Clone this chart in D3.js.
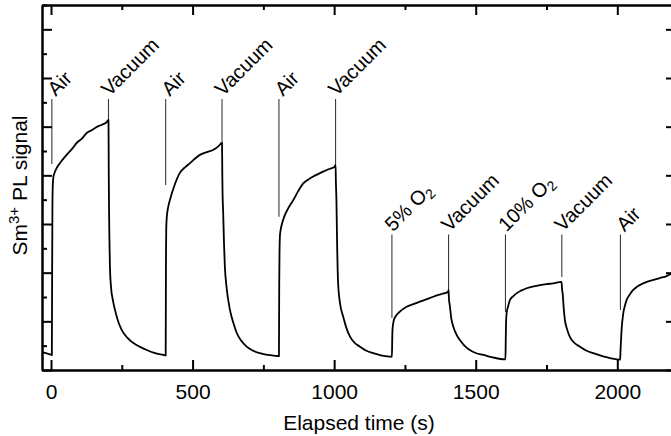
<!DOCTYPE html>
<html>
<head>
<meta charset="utf-8">
<script src="https://cdn.jsdelivr.net/npm/d3@7"></script>
<style>
  html, body { margin: 0; padding: 0; background: #fff; }
  svg { display: block; }
  text { font-family: "Liberation Sans", Arial, Helvetica, sans-serif; fill: #000; }
</style>
</head>
<body>
<svg id="chart" width="671" height="436"></svg>
<script>
// ---- data ----
const timeS = [-32,-15,0,3,4,5,6,8,11,20,32,55,75,91,110,126,145,161,180,197,203,
  204,205,206,208,212,218,226,237,250,270,291,315,338,365,397,405,
  406,407,409,414,420,435,455,475,491,510,526,550,572,590,604,
  605,606,608,611,614,620,632,645,656,672,691,712,738,765,797,805,
  806,807,809,820,838,856,873,891,908,926,943,961,980,1002,1005,
  1006,1008,1010,1014,1020,1032,1044,1056,1072,1091,1112,1138,1165,1197,1204,
  1205,1206,1209,1214,1222,1232,1256,1280,1303,1325,1350,1375,1403,1404,
  1405,1409,1414,1421,1432,1444,1460,1479,1500,1527,1560,1603,1605,
  1606,1607,1609,1614,1621,1632,1644,1660,1680,1705,1727,1750,1774,1803,
  1805,1807,1811,1815,1822,1832,1848,1868,1890,1915,1950,1998,2010,
  2011,2012,2015,2021,2026,2033,2044,2056,2072,2091,2110,2127,2150,2174,2189,2210];
const signal = [0.74,0.68,0.63,0.61,4.0,6.6,7.5,7.9,8.05,8.3,8.51,8.84,9.1,9.33,9.52,9.74,9.86,9.99,10.08,10.19,10.28,
  8.0,6.6,5.6,4.3,3.4,2.9,2.47,2.0,1.64,1.32,1.11,0.95,0.82,0.70,0.62,0.60,
  4.5,5.8,6.3,6.7,6.99,7.55,8.1,8.35,8.5,8.7,8.84,8.95,9.04,9.18,9.33,
  8.0,7.2,6.5,5.2,4.25,3.4,2.47,1.9,1.52,1.2,0.96,0.8,0.69,0.62,0.58,0.57,
  3.5,4.8,5.6,6.17,6.65,6.99,7.35,7.67,7.82,7.95,8.05,8.15,8.25,8.36,8.43,
  7.8,7.0,5.5,3.56,2.8,2.19,1.7,1.37,1.12,0.96,0.8,0.69,0.6,0.55,0.54,
  1.2,1.64,1.95,2.14,2.28,2.40,2.60,2.71,2.81,2.9,3.01,3.11,3.22,3.29,
  3.0,2.60,2.1,1.78,1.45,1.23,1.0,0.82,0.7,0.62,0.52,0.44,0.44,
  1.2,1.9,2.33,2.6,2.88,3.03,3.15,3.26,3.36,3.44,3.49,3.53,3.56,3.62,
  3.3,3.15,2.5,2.05,1.7,1.37,1.12,0.96,0.8,0.69,0.56,0.44,0.43,
  0.7,0.96,1.64,2.33,2.6,2.88,3.1,3.29,3.44,3.56,3.64,3.70,3.78,3.86,3.95,4.0];

const eventTimes  = [3, 203, 405, 604, 805, 1005, 1204, 1404, 1605, 1804, 2011];
const eventLabels = ["Air","Vacuum","Air","Vacuum","Air","Vacuum","5% O|2","Vacuum","10% O|2","Vacuum","Air"];
const eventTop    = [11.14,11.14,11.14,11.14,11.14,11.14,5.57,5.57,5.57,5.57,5.57];
const eventBottom = [8.47,10.28,7.6,9.25,6.3,8.43,2.14,3.29,2.38,3.82,2.47];

const xMajorTicks = [0, 500, 1000, 1500, 2000];
const xMinorTicks = [250, 750, 1250, 1750];
const yMajorTicks = [0, 2, 4, 6, 8, 10, 12, 14];
const yMinorTicks = [1, 3, 5, 7, 9, 11, 13, 15];

const xTitle = "Elapsed time (s)";

// ---- layout ----
const svg = d3.select("#chart");
const L = 42, R = 676, T = 5, B = 370;
const x = d3.scaleLinear().domain([-31.8, 2207.3]).range([L, R]);
const y = d3.scaleLinear().domain([0, 15]).range([B, T]);

svg.append("defs").append("clipPath").attr("id", "clip")
  .append("rect").attr("x", L).attr("y", T).attr("width", R - L).attr("height", B - T);

const pts = timeS.map((t, i) => [t, signal[i]]);
const line = d3.line().x(d => x(d[0])).y(d => y(d[1])).curve(d3.curveMonotoneX);

// event marker lines
const ev = svg.append("g").attr("clip-path", "url(#clip)");
eventTimes.forEach((t, i) => {
  ev.append("line")
    .attr("x1", x(t)).attr("x2", x(t))
    .attr("y1", y(eventTop[i])).attr("y2", y(eventBottom[i]))
    .attr("stroke", "#3a3a3a").attr("stroke-width", 1.1);
});

// curve
svg.append("path").attr("clip-path", "url(#clip)")
  .datum(pts).attr("d", line)
  .attr("fill", "none").attr("stroke", "#000").attr("stroke-width", 1.8)
  .attr("stroke-linejoin", "round");

// event labels
eventTimes.forEach((t, i) => {
  const extra = eventLabels[i] === "Air" ? 3 : 0;
  const ax = x(t) + 1 + extra, ay = y(eventTop[i]) - 2;
  const txt = svg.append("text")
    .attr("transform", `translate(${ax},${ay}) rotate(-45)`)
    .attr("font-size", 20);
  const parts = eventLabels[i].split("|");
  txt.append("tspan").text(parts[0]);
  if (parts.length > 1) {
    txt.append("tspan").attr("font-size", 14).attr("dy", 4).text(parts[1]);
  }
});

// axes: bottom, top, left, right
const sw = 2;
const gBottom = svg.append("g").attr("transform", `translate(0,${B})`)
  .call(d3.axisBottom(x).tickValues(xMajorTicks).tickFormat(d3.format("d"))
    .tickSizeInner(-10).tickSizeOuter(0).tickPadding(14));
const gBottomMinor = svg.append("g").attr("transform", `translate(0,${B})`)
  .call(d3.axisBottom(x).tickValues(xMinorTicks).tickSizeInner(-5).tickSizeOuter(0).tickFormat(""));
const gTop = svg.append("g").attr("transform", `translate(0,${T})`)
  .call(d3.axisTop(x).tickValues(xMajorTicks).tickSizeInner(-10).tickSizeOuter(0).tickFormat(""));
const gTopMinor = svg.append("g").attr("transform", `translate(0,${T})`)
  .call(d3.axisTop(x).tickValues(xMinorTicks).tickSizeInner(-5).tickSizeOuter(0).tickFormat(""));
const gLeft = svg.append("g").attr("transform", `translate(${L},0)`)
  .call(d3.axisLeft(y).tickValues(yMajorTicks).tickSizeInner(-10).tickSizeOuter(0).tickFormat(""));
const gLeftMinor = svg.append("g").attr("transform", `translate(${L},0)`)
  .call(d3.axisLeft(y).tickValues(yMinorTicks).tickSizeInner(-5).tickSizeOuter(0).tickFormat(""));
const gRight = svg.append("g").attr("transform", `translate(${R},0)`)
  .call(d3.axisRight(y).tickValues(yMajorTicks).tickSizeInner(-10).tickSizeOuter(0).tickFormat(""));
const gRightMinor = svg.append("g").attr("transform", `translate(${R},0)`)
  .call(d3.axisRight(y).tickValues(yMinorTicks).tickSizeInner(-5).tickSizeOuter(0).tickFormat(""));

[gBottom, gBottomMinor, gTop, gTopMinor, gLeft, gLeftMinor, gRight, gRightMinor].forEach(g => {
  g.selectAll("path.domain").attr("stroke", "#000").attr("stroke-width", sw);
  g.selectAll(".tick line").attr("stroke", "#000").attr("stroke-width", sw);
});
gBottom.selectAll(".tick text")
  .attr("font-size", 21).attr("fill", "#000")
  .attr("font-family", "Liberation Sans, Arial, Helvetica, sans-serif");

// axis titles
svg.append("text").attr("x", (L + R) / 2).attr("y", 430)
  .attr("text-anchor", "middle").attr("font-size", 21).text(xTitle);

const yt = svg.append("text")
  .attr("transform", `translate(27,${(T + B) / 2 - 2}) rotate(-90)`)
  .attr("text-anchor", "middle").attr("font-size", 21);
yt.append("tspan").text("Sm");
yt.append("tspan").attr("font-size", 15).attr("dy", -8).text("3+");
yt.append("tspan").attr("dy", 8).text(" PL signal");
</script>
</body>
</html>
